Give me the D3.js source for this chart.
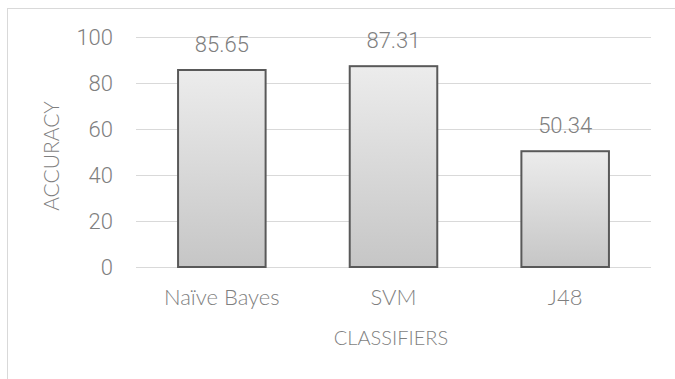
<!DOCTYPE html>
<html>
<head>
<meta charset="utf-8">
<script src="https://cdn.jsdelivr.net/npm/d3@7"></script>
<style>
  body { margin: 0; background: #fff; }
  text { fill: #7f7f7f; }
  .chiffre { font-family: Roboto, sans-serif; font-weight: 300; }
  .mot { font-family: Lato, sans-serif; font-weight: 300; }
</style>
</head>
<body>
<svg width="675" height="379"></svg>
<script>
// données
let classifieurs = ["Naïve Bayes", "SVM", "J48"];
let precision = [85.65, 87.31, 50.34];
let graduations = [0, 20, 40, 60, 80, 100];

let svg = d3.select("svg");

// cadre du graphique (coupé à droite et en bas)
svg.append("rect")
    .attr("x", 7.5).attr("y", 8.5)
    .attr("width", 700).attr("height", 400)
    .attr("fill", "none")
    .attr("stroke", "#d9d9d9");

let x = d3.scaleBand()
    .domain(classifieurs)
    .range([136, 651])
    .paddingInner(0.49)
    .paddingOuter(0.245);

let y = d3.scaleLinear()
    .domain([0, 100])
    .range([267, 37]);

// dégradé des barres
let defs = svg.append("defs");
let grad = defs.append("linearGradient")
    .attr("id", "degrade")
    .attr("x1", 0).attr("y1", 0).attr("x2", 0).attr("y2", 1);
grad.append("stop").attr("offset", "0%").attr("stop-color", "#ececec");
grad.append("stop").attr("offset", "100%").attr("stop-color", "#c6c6c6");

// grille
let axeY = svg.append("g")
    .attr("transform", "translate(136,0)")
    .call(d3.axisLeft(y).tickValues(graduations).tickSize(-515).tickPadding(23));
axeY.select(".domain").remove();
axeY.selectAll("line").attr("stroke", "#d9d9d9");
axeY.selectAll("text")
    .attr("class", "chiffre")
    .attr("dy", "0.36em")
    .style("font-size", "22px")
    .attr("fill", "#7f7f7f");

// barres
svg.append("g").selectAll("rect")
    .data(precision)
    .join("rect")
    .attr("x", (d, i) => x(classifieurs[i]))
    .attr("y", d => y(d))
    .attr("width", x.bandwidth())
    .attr("height", d => y(0) - y(d))
    .attr("fill", "url(#degrade)")
    .attr("stroke", "#595959")
    .attr("stroke-width", 2);

// valeurs
svg.append("g").selectAll("text")
    .data(precision)
    .join("text")
    .attr("class", "chiffre")
    .attr("x", (d, i) => x(classifieurs[i]) + x.bandwidth() / 2)
    .attr("y", d => y(d) - 18)
    .attr("text-anchor", "middle")
    .style("font-size", "22px")
    .text(d => d.toFixed(2));

// étiquettes des catégories
svg.append("g").selectAll("text")
    .data(classifieurs)
    .join("text")
    .attr("class", "mot")
    .attr("x", d => x(d) + x.bandwidth() / 2)
    .attr("y", 305)
    .attr("text-anchor", "middle")
    .style("font-size", "22px")
    .text(d => d);

// titres des axes
svg.append("text")
    .attr("class", "mot")
    .attr("x", 391).attr("y", 345)
    .attr("text-anchor", "middle")
    .style("font-size", "20px")
    .text("CLASSIFIERS");

svg.append("text")
    .attr("class", "mot")
    .attr("transform", "translate(59,156) rotate(-90)")
    .attr("text-anchor", "middle")
    .style("font-size", "21px")
    .text("ACCURACY");
</script>
</body>
</html>
